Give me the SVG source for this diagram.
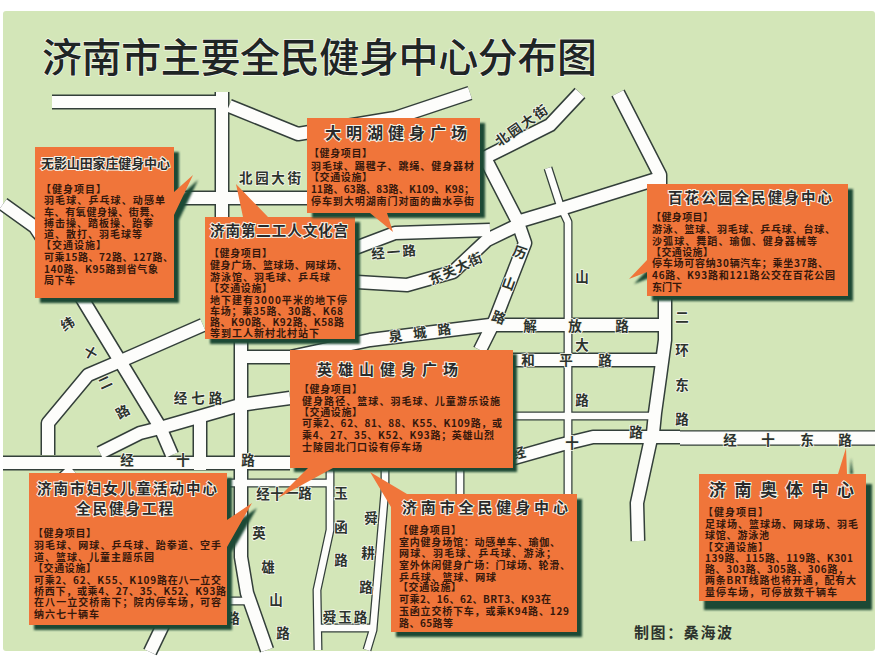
<svg xmlns="http://www.w3.org/2000/svg" width="885" height="657" viewBox="0 0 885 657">
<style>
text{font-family:"Noto Sans CJK SC","Noto Sans",sans-serif;}
.bg{fill:#d3e6b8}
.rd{fill:none}
.cas{stroke:#333f3a}
.fil{stroke:#fdfdfb}
.box{fill:#f0753a}
.sh{fill:#1d4a36}
.ttl{font-size:40px;font-weight:500;fill:#1f2525;stroke:#f2f6ea;stroke-width:1.5px;paint-order:stroke}
.h{font-weight:700;fill:#2a2a2a;stroke:#f4f1e6;stroke-width:2px;paint-order:stroke}
.b{font-size:10px;font-weight:700;fill:#35180c}
.lb{font-size:13.5px;font-weight:700;fill:#2c332d;stroke:#f6f8ee;stroke-width:1.5px;paint-order:stroke;text-anchor:middle}
.cr{font-size:15px;font-weight:700;fill:#2c332d}
</style>
<defs>
<filter id="soft" x="-10%" y="-10%" width="120%" height="120%"><feGaussianBlur stdDeviation="0.9"/></filter>
<g id="r12" class="rd" stroke-linejoin="round">
<path d="M229,106 298,134 395,118 470,93"/>
<path d="M150,198H350"/>
<path d="M480,160 550,125 580,93"/>
<path d="M3,204 35,227 83,300 160,427 172,455"/>
<path d="M203,325 123,360 88,375 48,423 48,455"/>
<path d="M3,463 290,463"/>
<path d="M100,453 140,433 160,428 240,405 290,398"/>
<path d="M200,420V470"/>
<path d="M241,340V473 557L247,593 267,650"/>
<path d="M245,357H290L370,340 490,325H665"/>
<path d="M350,250 395,233 490,230"/>
<path d="M357,282 407,285 453,272 487,240 516,226"/>
<path d="M485,158 517,220 525,243 495,320 480,350"/>
<path d="M517,222 567,207 660,178"/>
<path d="M618,93 660,175V200"/>
<path d="M665,295V340L660,377 655,413 653,433 650,443 637,503 638,541"/>
<path d="M512,360H665"/>
<path d="M500,462 560,445 593,437H680"/>
<path d="M175,600 150,652"/>
<path d="M73,470 60,482"/>
<path d="M222,92V225"/>
<path d="M52,102H222"/>
</g>
<g id="r7" class="rd" stroke-linejoin="round">
<path d="M548,168 560,205 568,222V495"/>
<path d="M515,416H655"/>
<path d="M228,483H330"/>
<path d="M330,465V530L317,590 318,650"/>
<path d="M385,465V490L373,630 367,650"/>
<path d="M320,628H375"/>
<path d="M460,465V495"/>
<path d="M228,601H245"/>
</g>
<path id="r14" class="rd" d="M680,438H875"/>
</defs>

<rect class="bg" x="3" y="11" width="872" height="640" rx="3"/>
<text class="ttl" x="42" y="72" textLength="555">济南市主要全民健身中心分布图</text>

<g id="connectors">
<use href="#r12" class="cas" stroke-width="15"/>
<use href="#r7" class="cas" stroke-width="9"/>
<use href="#r14" class="cas" stroke-width="15.5"/>
<use href="#r12" class="fil" stroke-width="12"/>
<use href="#r7" class="fil" stroke-width="6.5"/>
<use href="#r14" class="fil" stroke-width="13"/>
</g>

<g id="road-labels">
<text class="lb" x="270" y="183" textLength="62">北园大街</text>
<text class="lb" transform="translate(525,129) rotate(-35)" letter-spacing="2">北园大街</text>
<text class="lb" transform="translate(395,257) rotate(-5)" letter-spacing="2">经一路</text>
<text class="lb" transform="translate(458,273) rotate(-25)" font-size="12" letter-spacing="1">东关大街</text>
<text class="lb" transform="translate(426,337) rotate(-8)" letter-spacing="11">泉城路</text>
<text class="lb" x="530" y="331">解</text><text class="lb" x="575" y="331">放</text><text class="lb" x="622" y="331">路</text>
<text class="lb" transform="translate(518,257) rotate(20)">历</text><text class="lb" transform="translate(507,288) rotate(20)">山</text><text class="lb" transform="translate(497,322) rotate(20)">路</text>
<text class="lb" x="582" y="282">山</text><text class="lb" x="582" y="350">大</text><text class="lb" x="528" y="365">和</text><text class="lb" x="566" y="365">平</text><text class="lb" x="605" y="365">路</text><text class="lb" x="582" y="405">路</text><text class="lb" x="636" y="437">路</text>
<text class="lb" x="682" y="322">二</text><text class="lb" x="682" y="355">环</text><text class="lb" x="682" y="390">东</text><text class="lb" x="682" y="424">路</text>
<text class="lb" x="730" y="445">经</text><text class="lb" x="768" y="445">十</text><text class="lb" x="807" y="445">东</text><text class="lb" x="845" y="445">路</text>
<text class="lb" x="572" y="448">十</text><text class="lb" transform="translate(520,458) rotate(-15)">经</text>
<text class="lb" transform="translate(70,328) rotate(-30)">纬</text><text class="lb" transform="translate(88,357) rotate(30)">十</text><text class="lb" transform="translate(107,387) rotate(-25)">二</text><text class="lb" transform="translate(125,416) rotate(-30)">路</text>
<text class="lb" x="200" y="403" letter-spacing="4">经七路</text>
<text class="lb" x="127" y="465">经</text><text class="lb" x="183" y="465">十</text><text class="lb" x="248" y="465">路</text>
<text class="lb" x="263" y="499" font-size="12">经</text><text class="lb" x="277" y="499" font-size="12">十</text><text class="lb" x="292" y="498" font-size="12">一</text><text class="lb" x="305" y="498" font-size="12">路</text>
<text class="lb" x="259" y="538">英</text><text class="lb" x="268" y="572">雄</text><text class="lb" x="276" y="605">山</text><text class="lb" x="283" y="638">路</text>
<text class="lb" x="233" y="623">路</text>
<text class="lb" x="341" y="498">玉</text><text class="lb" x="341" y="532">函</text><text class="lb" x="341" y="565">路</text>
<text class="lb" x="371" y="523">舜</text><text class="lb" x="368" y="558">耕</text><text class="lb" x="366" y="592">路</text>
<text class="lb" x="346" y="622" font-size="12" letter-spacing="2">舜玉路</text>
</g>

<g id="node-wuying">
<path class="sh" filter="url(#soft)" d="M40,152H179V303H40ZM179,197 198,180 179,220Z"/>
<path class="box" d="M35,147H174V192L193,175 174,215V298H35Z"/>
<text class="h" x="41" y="168" font-size="13" textLength="129">无影山田家庄健身中心</text>
<g class="b">
<text x="41" y="192.500" textLength="65">【健身项目】</text>
<text x="44" y="204" textLength="121">羽毛球、乒乓球、动感单</text>
<text x="44" y="216" textLength="116">车、有氧健身操、街舞、</text>
<text x="44" y="227" textLength="109">搏击操、踏板操、跆拳</text>
<text x="44" y="238" textLength="98">道、散打、羽毛球等</text>
<text x="41" y="249" textLength="65">【交通设施】</text>
<text x="44" y="261" textLength="129">可乘15路、72路、127路、</text>
<text x="44" y="273" textLength="114">140路、K95路到省气象</text>
<text x="44" y="284" textLength="31">局下车</text>
</g>
</g>

<g id="node-gongren">
<path class="sh" filter="url(#soft)" d="M210,222H360V344H210Z"/>
<path class="box" d="M205,217H243L236,184 268,217H355V339H205Z"/>
<text class="h" x="210" y="236" font-size="14.500" textLength="138">济南第二工人文化宫</text>
<g class="b">
<text x="209" y="256.500" textLength="63">【健身项目】</text>
<text x="210" y="268.500" textLength="137">健身广场、篮球场、网球场、</text>
<text x="210" y="280.500" textLength="120">游泳馆、羽毛球、乒乓球</text>
<text x="209" y="291.500" textLength="63">【交通设施】</text>
<text x="210" y="303.500" textLength="137">地下建有3000平米的地下停</text>
<text x="210" y="314.500" textLength="133">车场；乘35路、30路、K68</text>
<text x="210" y="325.500" textLength="134">路、K90路、K92路、K58路</text>
<text x="210" y="336.500" textLength="109">等到工人新村北村站下</text>
</g>
</g>

<g id="node-daminghu">
<path class="sh" filter="url(#soft)" d="M312,123H485V218H312Z"/>
<path class="box" d="M307,118H480V213H387L393,232 370,213H307Z"/>
<text class="h" x="325" y="139" font-size="16" textLength="142">大明湖健身广场</text>
<g class="b">
<text x="309" y="156.500" textLength="63">【健身项目】</text>
<text x="311" y="169.500" textLength="163">羽毛球、踢毽子、跳绳、健身器材</text>
<text x="309" y="180.500" textLength="63">【交通设施】</text>
<text x="311" y="192.500" textLength="163">11路、63路、83路、K109、K98；</text>
<text x="311" y="204.500" textLength="163">停车到大明湖南门对面的曲水亭街</text>
</g>
</g>

<g id="node-baihua">
<path class="sh" filter="url(#soft)" d="M652,189H853V301H652ZM652,265 634,284 652,277Z"/>
<path class="box" d="M647,184H848V296H647V272L629,279 647,260Z"/>
<text class="h" x="668" y="203" font-size="14.500" textLength="164">百花公园全民健身中心</text>
<g class="b">
<text x="651" y="220.500" textLength="62">【健身项目】</text>
<text x="652" y="232.500" textLength="183">游泳、篮球、羽毛球、乒乓球、台球、</text>
<text x="652" y="244.500" textLength="165">沙弧球、舞蹈、瑜伽、健身器械等</text>
<text x="651" y="255.500" textLength="62">【交通设施】</text>
<text x="652" y="266.500" textLength="176">停车场可容纳30辆汽车；乘坐37路、</text>
<text x="652" y="278.500" textLength="183">46路、K93路和121路公交在百花公园</text>
<text x="652" y="290.500" textLength="30">东门下</text>
</g>
</g>

<g id="node-yingxiongshan">
<path class="sh" filter="url(#soft)" d="M294,354H517V472H294Z"/>
<path class="box" d="M290,350H513V468H333L278,498 308,468H290Z"/>
<text class="h" x="317" y="374.500" font-size="15" textLength="141">英雄山健身广场</text>
<g class="b">
<text x="299" y="392.500" textLength="63">【健身项目】</text>
<text x="302" y="404.500" textLength="198">健身路径、篮球、羽毛球、儿童游乐设施</text>
<text x="299" y="415.500" textLength="63">【交通设施】</text>
<text x="302" y="426.500" textLength="200">可乘2、62、81、88、K55、K109路，或</text>
<text x="302" y="438.500" textLength="192">乘4、27、35、K52、K93路；英雄山烈</text>
<text x="302" y="450.500" textLength="120">士陵园北门口设有停车场</text>
</g>
</g>

<g id="node-quanmin">
<path class="sh" filter="url(#soft)" d="M396,499H582V637H396Z"/>
<path class="box" d="M370,472 407,494H577V632H391V507Z"/>
<text class="h" x="402" y="513" font-size="15" textLength="166">济南市全民健身中心</text>
<g class="b">
<text x="398" y="533.500" textLength="63">【健身项目】</text>
<text x="399" y="545.500" textLength="161">室内健身场馆：动感单车、瑜伽、</text>
<text x="399" y="556.500" textLength="157">网球、羽毛球、乒乓球、游泳；</text>
<text x="399" y="568.500" textLength="171">室外休闲健身广场：门球场、轮滑、</text>
<text x="399" y="580.500" textLength="97">乒乓球、篮球、网球</text>
<text x="398" y="590.500" textLength="63">【交通设施】</text>
<text x="399" y="602.500" textLength="152">可乘2、16、62、BRT3、K93在</text>
<text x="399" y="614.500" textLength="170">玉函立交桥下车，或乘K94路、129</text>
<text x="399" y="626.500" textLength="54">路、65路等</text>
</g>
</g>

<g id="node-funv">
<path class="sh" filter="url(#soft)" d="M34,478H232V630H34ZM232,525 257,508 232,552Z"/>
<path class="box" d="M29,473H227V520L252,503 227,547V625H29Z"/>
<text class="h" x="37" y="494" font-size="14.500" textLength="180">济南市妇女儿童活动中心</text>
<text class="h" x="76" y="514" font-size="14.500" textLength="97">全民健身工程</text>
<g class="b">
<text x="33" y="536.500" textLength="63">【健身项目】</text>
<text x="34" y="548.500" textLength="187">羽毛球、网球、乒乓球、跆拳道、空手</text>
<text x="34" y="560.500" textLength="120">道、篮球、儿童主题乐园</text>
<text x="33" y="571.500" textLength="63">【交通设施】</text>
<text x="34" y="583.500" textLength="187">可乘2、62、K55、K109路在八一立交</text>
<text x="34" y="594.500" textLength="192">桥西下，或乘4、27、35、K52、K93路</text>
<text x="34" y="605.500" textLength="187">在八一立交桥南下；院内停车场，可容</text>
<text x="34" y="617.500" textLength="65">纳六七十辆车</text>
</g>
</g>

<g id="node-aoti">
<path class="sh" filter="url(#soft)" d="M704,484H872V610H704ZM850,474 851,458 853,474Z"/>
<path class="box" d="M699,474H838L846,448 847,474H866V601H699Z"/>
<text class="h" x="709" y="496" font-size="17" textLength="145">济南奥体中心</text>
<g class="b">
<text x="703" y="515.500" textLength="65">【健身项目】</text>
<text x="705" y="527.500" textLength="153">足球场、篮球场、网球场、羽毛</text>
<text x="705" y="538.500" textLength="64">球馆、游泳池</text>
<text x="703" y="550.500" textLength="65">【交通设施】</text>
<text x="705" y="561.500" textLength="148">139路、115路、119路、K301</text>
<text x="705" y="572.500" textLength="143">路、303路、305路、306路，</text>
<text x="705" y="583.500" textLength="151">两条BRT线路也将开通，配有大</text>
<text x="705" y="595.500" textLength="132">量停车场，可停放数千辆车</text>
</g>
</g>

<text class="cr" x="634" y="638" textLength="98">制图：桑海波</text>
</svg>
